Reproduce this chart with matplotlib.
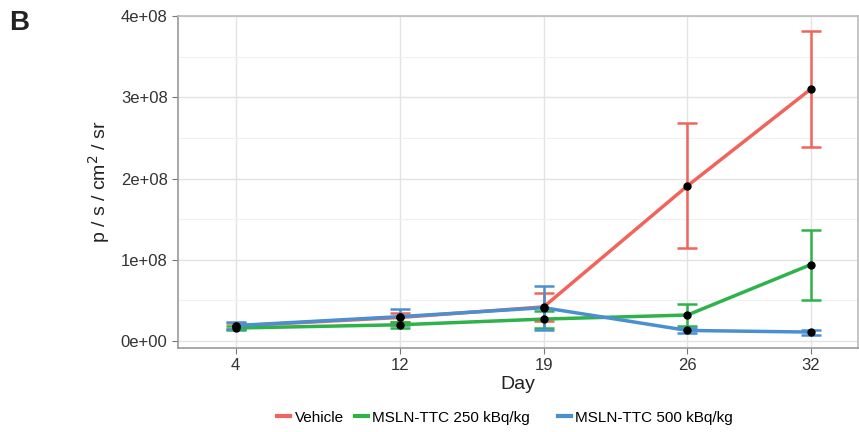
import numpy as np
import matplotlib.pyplot as plt
from matplotlib.lines import Line2D
from matplotlib.ticker import MultipleLocator, FuncFormatter

plt.rcParams['font.family'] = ['Liberation Sans', 'DejaVu Sans']

days = np.array([4, 12, 19, 26, 32])

vehicle = np.array([1.85e7, 2.9e7, 4.2e7, 1.91e8, 3.10e8])
vehicle_err = np.array([0.4e7, 0.6e7, 1.7e7, 0.77e8, 0.71e8])

ttc250 = np.array([1.6e7, 2.0e7, 2.7e7, 3.2e7, 9.4e7])
ttc250_err = np.array([0.3e7, 0.4e7, 1.05e7, 1.4e7, 4.3e7])

ttc500 = np.array([1.9e7, 3.0e7, 4.1e7, 1.3e7, 1.1e7])
ttc500_err = np.array([0.4e7, 1.0e7, 2.7e7, 0.35e7, 0.3e7])

labels = ["Vehicle", "MSLN-TTC 250 kBq/kg", "MSLN-TTC 500 kBq/kg"]
colors = ["#F0645C", "#2EB24A", "#4A8FD2"]

fig = plt.figure(figsize=(8.59, 4.32), dpi=100)
ax = fig.add_axes([178 / 859, 1 - 348 / 432, 680 / 859, 332 / 432])

series = [(vehicle, vehicle_err), (ttc250, ttc250_err), (ttc500, ttc500_err)]
for (y, e), c in zip(series, colors):
    ax.errorbar(days, y, yerr=e, color=c, lw=2.5, capsize=7, capthick=1.8,
                elinewidth=1.8, zorder=2)
for y, _ in series:
    ax.plot(days, y, 'o', color='black', ms=5, zorder=3)


def fmt(v, p):
    if abs(v) < 1:
        return "0e+00"
    return f"{int(round(v / 1e8))}e+08"


ax.set_xlim(1.2, 34.3)
ax.set_ylim(-0.086e8, 4.0e8)
ax.set_xticks(days)
ax.yaxis.set_major_locator(MultipleLocator(1e8))
ax.yaxis.set_minor_locator(MultipleLocator(0.5e8))
ax.yaxis.set_major_formatter(FuncFormatter(fmt))
ax.grid(True, which='major', color='#e3e3e3', lw=1.0)
ax.grid(True, which='minor', axis='y', color='#f0f0f0', lw=0.8)
ax.set_axisbelow(True)
for s in ax.spines.values():
    s.set_color('#bbbbbb')
    s.set_linewidth(1.2)
ax.spines['left'].set_color('#999999')
ax.spines['bottom'].set_color('#999999')
ax.tick_params(axis='both', which='major', colors='#777777', labelcolor='#333333',
               labelsize=12, length=4)
ax.tick_params(axis='y', which='minor', length=0)

ax.set_xlabel("Day", fontsize=14, color='#222222', labelpad=2)
ax.set_ylabel("p / s / cm$^2$ / sr", fontsize=14, color='#222222', labelpad=6)

handles = [Line2D([], [], color=c, lw=3) for c in colors]
leg_labels = [labels[0], labels[1] + "    ", labels[2]]
fig.legend(handles, leg_labels, loc='center', bbox_to_anchor=(0.588, 0.033), ncol=3,
           frameon=False, fontsize=11, handlelength=0.85, handletextpad=0.3,
           columnspacing=0.7)

fig.text(0.011, 0.93, "B", fontsize=20, fontweight='bold', color='#222222')

fig.savefig("out.png", dpi=100)
